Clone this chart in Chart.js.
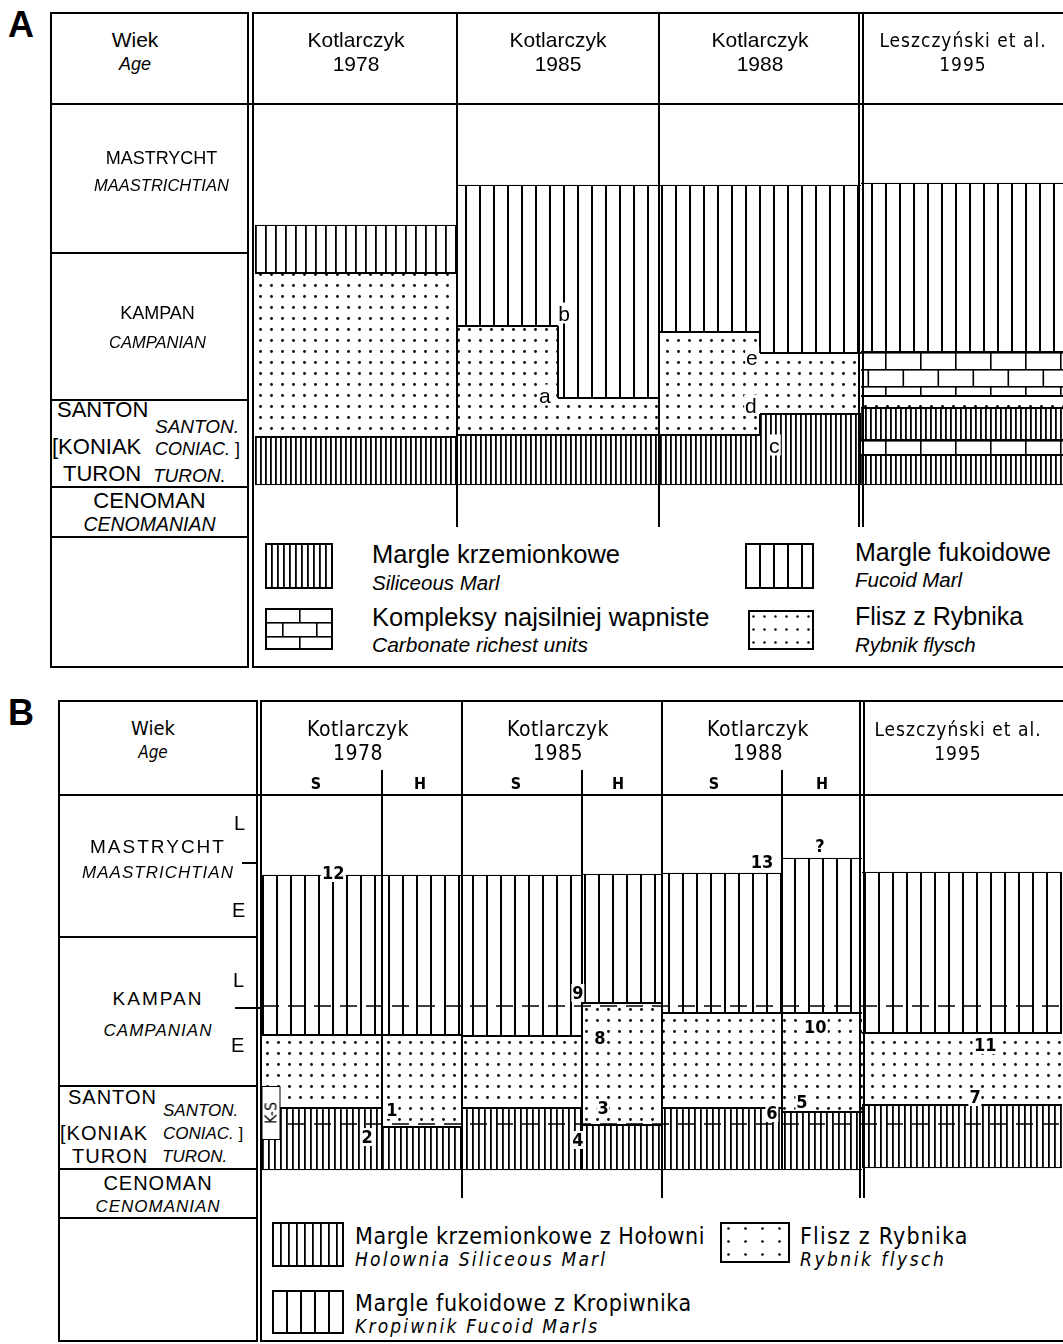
<!DOCTYPE html>
<html>
<head>
<meta charset="utf-8">
<script src="https://cdn.jsdelivr.net/npm/chart.js@4.4.0/dist/chart.umd.min.js"></script>
<style>
body { margin: 0; width: 1063px; height: 1344px; overflow: hidden; background: #fff; position: relative; color: #000; font-family: "Liberation Sans", Arial, sans-serif; }
.box { position: absolute; border: 2px solid #000; box-sizing: border-box; }
.hl { position: absolute; height: 2px; background: #000; }
.vl { position: absolute; width: 2px; background: #000; }
.letter { position: absolute; font-weight: bold; font-size: 36px; }
.ctr { position: absolute; text-align: center; white-space: nowrap; }
.t { position: absolute; white-space: nowrap; line-height: 20px; }
.tech { font-family: "DejaVu Sans Condensed", "Liberation Sans Narrow", "DejaVu Sans", sans-serif; font-stretch: condensed; }
.it { font-style: italic; }
.wrap { position: absolute; }
.mark { position: absolute; transform: translate(-50%, -50%); background: #fff; line-height: 1; padding: 0 1px; white-space: nowrap; }
.ks { width: 17px; height: 52px; border: 1.5px solid #000; padding: 0; writing-mode: vertical-rl; transform: translate(-50%, -50%) rotate(180deg); text-align: center; line-height: 17px; font-weight: normal !important; }
canvas { display: block; }
.sw { position: absolute; }
</style>
</head>
<body>

<!-- ================= PANEL A ================= -->
<div class="letter" style="left:8px;top:4px">A</div>
<div class="box" style="left:50px;top:12px;width:199px;height:656px"></div>
<div class="box" style="left:252px;top:12px;width:900px;height:656px"></div>

<div class="wrap" style="left:255px;top:104px"><canvas id="chartA" width="808" height="423"></canvas></div>

<div class="hl" style="left:50px;top:103px;width:1013px"></div>
<div class="hl" style="left:50px;top:252px;width:199px"></div>
<div class="hl" style="left:50px;top:399px;width:199px"></div>
<div class="hl" style="left:50px;top:486px;width:199px"></div>
<div class="hl" style="left:50px;top:536px;width:199px"></div>
<div class="vl" style="left:456px;top:12px;height:92px"></div>
<div class="vl" style="left:658px;top:12px;height:92px"></div>
<div class="vl" style="left:858px;top:12px;height:92px"></div>
<div class="vl" style="left:862px;top:12px;height:92px"></div>

<div class="ctr" style="left:50px;top:28px;width:170px;font-size:21px;line-height:23px">Wiek<br><i style="font-size:18px">Age</i></div>
<div class="ctr" style="left:255px;top:28px;width:202px;font-size:21px;line-height:24px">Kotlarczyk<br>1978</div>
<div class="ctr" style="left:457px;top:28px;width:202px;font-size:21px;line-height:24px">Kotlarczyk<br>1985</div>
<div class="ctr" style="left:659px;top:28px;width:202px;font-size:21px;line-height:24px">Kotlarczyk<br>1988</div>
<div class="ctr tech" style="left:863px;top:28px;width:200px;font-size:19px;line-height:24px;letter-spacing:1px">Leszczyński et al.<br>1995</div>

<div class="ctr" style="left:62px;top:145px;width:199px;font-size:18px;line-height:27px">MASTRYCHT<br><i style="font-size:16.5px">MAASTRICHTIAN</i></div>
<div class="ctr" style="left:58px;top:299px;width:199px;font-size:18px;line-height:29px">KAMPAN<br><i style="font-size:16.5px">CAMPANIAN</i></div>
<div class="t" style="left:57px;top:400px;font-size:22px">SANTON</div>
<div class="t it" style="left:155px;top:417px;font-size:19px">SANTON.</div>
<div class="t" style="left:52px;top:437px;font-size:22px">[KONIAK</div>
<div class="t it" style="left:155px;top:439px;font-size:18px">CONIAC. <span style="font-style:normal">]</span></div>
<div class="t" style="left:63px;top:464px;font-size:22px">TURON</div>
<div class="t it" style="left:153px;top:466px;font-size:19px">TURON.</div>
<div class="ctr" style="left:50px;top:489px;width:199px;font-size:22px;line-height:23px">CENOMAN<br><i style="font-size:19.5px">CENOMANIAN</i></div>

<canvas class="sw" id="swA1" width="68" height="46" style="left:265px;top:543px"></canvas>
<canvas class="sw" id="swA2" width="68" height="42" style="left:265px;top:608px"></canvas>
<canvas class="sw" id="swA3" width="69" height="46" style="left:745px;top:543px"></canvas>
<canvas class="sw" id="swA4" width="66" height="40" style="left:748px;top:610px"></canvas>
<div class="t" style="left:372px;top:541px;font-size:25.5px;line-height:26px">Margle krzemionkowe</div>
<div class="t it" style="left:372px;top:573px;font-size:20.5px">Siliceous Marl</div>
<div class="t" style="left:372px;top:604px;font-size:25.5px;line-height:26px">Kompleksy najsilniej wapniste</div>
<div class="t it" style="left:372px;top:635px;font-size:21px">Carbonate richest units</div>
<div class="t" style="left:855px;top:539px;font-size:25px;line-height:26px">Margle fukoidowe</div>
<div class="t it" style="left:855px;top:570px;font-size:20.5px">Fucoid Marl</div>
<div class="t" style="left:855px;top:603px;font-size:25px;line-height:26px">Flisz z Rybnika</div>
<div class="t it" style="left:855px;top:635px;font-size:20.5px">Rybnik flysch</div>

<!-- ================= PANEL B ================= -->
<div class="letter" style="left:8px;top:692px">B</div>
<div class="box" style="left:58px;top:700px;width:200px;height:642px"></div>
<div class="box" style="left:260px;top:700px;width:900px;height:642px"></div>

<div class="wrap" style="left:262px;top:795px"><canvas id="chartB" width="800" height="403"></canvas></div>

<div class="hl" style="left:58px;top:794px;width:1005px"></div>
<div class="hl" style="left:58px;top:936px;width:200px"></div>
<div class="hl" style="left:58px;top:1085px;width:200px"></div>
<div class="hl" style="left:58px;top:1168px;width:200px"></div>
<div class="hl" style="left:58px;top:1217px;width:200px"></div>
<div class="vl" style="left:461px;top:700px;height:95px"></div>
<div class="vl" style="left:661px;top:700px;height:95px"></div>
<div class="vl" style="left:859px;top:700px;height:95px"></div>
<div class="vl" style="left:863px;top:700px;height:95px"></div>
<div class="vl" style="left:381px;top:770px;height:25px"></div>
<div class="vl" style="left:581px;top:770px;height:25px"></div>
<div class="vl" style="left:781px;top:770px;height:25px"></div>

<div class="ctr tech" style="left:58px;top:717px;width:190px;font-size:20px;line-height:23px">Wiek<br><i style="font-size:17px">Age</i></div>
<div class="ctr tech" style="left:258px;top:717px;width:200px;font-size:21px;line-height:24px;letter-spacing:0.5px">Kotlarczyk<br>1978</div>
<div class="ctr tech" style="left:458px;top:717px;width:200px;font-size:21px;line-height:24px;letter-spacing:0.5px">Kotlarczyk<br>1985</div>
<div class="ctr tech" style="left:658px;top:717px;width:200px;font-size:21px;line-height:24px;letter-spacing:0.5px">Kotlarczyk<br>1988</div>
<div class="ctr tech" style="left:858px;top:717px;width:200px;font-size:19px;line-height:24px;letter-spacing:1px">Leszczyński et al.<br>1995</div>
<div class="ctr tech" style="left:256px;top:774px;width:120px;font-size:16px;font-weight:bold">S</div>
<div class="ctr tech" style="left:380px;top:774px;width:80px;font-size:16px;font-weight:bold">H</div>
<div class="ctr tech" style="left:456px;top:774px;width:120px;font-size:16px;font-weight:bold">S</div>
<div class="ctr tech" style="left:578px;top:774px;width:80px;font-size:16px;font-weight:bold">H</div>
<div class="ctr tech" style="left:654px;top:774px;width:120px;font-size:16px;font-weight:bold">S</div>
<div class="ctr tech" style="left:782px;top:774px;width:80px;font-size:16px;font-weight:bold">H</div>

<div class="ctr" style="left:58px;top:834px;width:200px;font-size:19px;line-height:25px;letter-spacing:2px">MASTRYCHT<br><i style="font-size:17px;letter-spacing:1px">MAASTRICHTIAN</i></div>
<div class="ctr" style="left:58px;top:983px;width:200px;font-size:19px;line-height:31px;letter-spacing:2px">KAMPAN<br><i style="font-size:17px;letter-spacing:1px">CAMPANIAN</i></div>
<div class="t" style="left:234px;top:813px;font-size:20px">L</div>
<div class="hl" style="left:242px;top:862px;width:16px;height:1.5px"></div>
<div class="t" style="left:232px;top:900px;font-size:20px">E</div>
<div class="t" style="left:233px;top:970px;font-size:20px">L</div>
<div class="hl" style="left:235px;top:1007px;width:28px;height:1.5px"></div>
<div class="t" style="left:231px;top:1035px;font-size:20px">E</div>
<div class="t" style="left:68px;top:1087px;font-size:20px;letter-spacing:1px">SANTON</div>
<div class="t it" style="left:163px;top:1101px;font-size:17px">SANTON.</div>
<div class="t" style="left:60px;top:1123px;font-size:20px;letter-spacing:1px">[KONIAK</div>
<div class="t it" style="left:163px;top:1124px;font-size:17px">CONIAC. <span style="font-style:normal">]</span></div>
<div class="t" style="left:72px;top:1146px;font-size:20px;letter-spacing:1px">TURON</div>
<div class="t it" style="left:162px;top:1147px;font-size:17px">TURON.</div>
<div class="ctr" style="left:58px;top:1172px;width:200px;font-size:20px;line-height:22px;letter-spacing:1px">CENOMAN<br><i style="font-size:17px">CENOMANIAN</i></div>

<canvas class="sw" id="swB1" width="72" height="45" style="left:272px;top:1222px"></canvas>
<canvas class="sw" id="swB2" width="70" height="41" style="left:720px;top:1222px"></canvas>
<canvas class="sw" id="swB3" width="72" height="44" style="left:272px;top:1290px"></canvas>
<div class="t tech" style="left:355px;top:1224px;font-size:23px;line-height:24px;letter-spacing:0.6px">Margle krzemionkowe z Hołowni</div>
<div class="t tech it" style="left:355px;top:1249px;font-size:19px;letter-spacing:2.2px">Holownia Siliceous Marl</div>
<div class="t tech" style="left:800px;top:1224px;font-size:23px;line-height:24px;letter-spacing:1.2px">Flisz z Rybnika</div>
<div class="t tech it" style="left:800px;top:1249px;font-size:19px;letter-spacing:2.5px">Rybnik flysch</div>
<div class="t tech" style="left:355px;top:1291px;font-size:23px;line-height:24px;letter-spacing:0.6px">Margle fukoidowe z Kropiwnika</div>
<div class="t tech it" style="left:355px;top:1316px;font-size:19px;letter-spacing:2.2px">Kropiwnik Fucoid Marls</div>

<script>
// Levels are drawing units measured downward from the header rule of each panel.

// ---- panel A: one slot = half of an author column
const slotsA = ['1978', '1978', '1985', '1985', '1988', '1988', '1995', '1995'];
const fucoidA = [[121, 169], [121, 169], [81, 222], [81, 294], [81, 228], [81, 249], [79, 248], [79, 248]];
const flyschA = [[169, 333], [169, 333], [222, 331], [294, 331], [228, 331], [249, 310], [292, 304], [292, 304]];
const siliceousA = [[333, 381], [333, 381], [331, 381], [331, 381], [331, 381], [310, 381], [304, 336], [304, 336]];
const siliceousA2 = [null, null, null, null, null, null, [351, 381], [351, 381]];
const carbonateA = [null, null, null, null, null, null, [248, 292], [248, 292]];
const carbonateA2 = [null, null, null, null, null, null, [336, 351], [336, 351]];
const markTextA = ['a', 'b', 'c', 'd', 'e'];
const markSlotA = [2.37, 2.56, 4.64, 4.41, 4.42];
const markLevelA = [291, 209, 341, 301, 253];

// ---- panel B: S / H sub-columns, 5 slots per author
const slotsB = ['1978 S', '1978 S', '1978 S', '1978 H', '1978 H', '1985 S', '1985 S', '1985 S', '1985 H', '1985 H',
  '1988 S', '1988 S', '1988 S', '1988 H', '1988 H', '1995', '1995', '1995', '1995', '1995'];
const fucoidB = [[80, 240], [80, 240], [80, 240], [80, 240], [80, 240], [80, 241], [80, 241], [80, 241], [79, 208], [79, 208],
  [78, 218], [78, 218], [78, 218], [63, 218], [63, 218], [77, 238], [77, 238], [77, 238], [77, 238], [77, 238]];
const flyschB = [[240, 313], [240, 313], [240, 313], [240, 332], [240, 332], [241, 313], [241, 313], [241, 313], [208, 330], [208, 330],
  [218, 313], [218, 313], [218, 313], [218, 317], [218, 317], [238, 310], [238, 310], [238, 310], [238, 310], [238, 310]];
const siliceousB = [[313, 375], [313, 375], [313, 375], [332, 375], [332, 375], [313, 375], [313, 375], [313, 375], [330, 375], [330, 375],
  [313, 375], [313, 375], [313, 375], [317, 375], [317, 375], [310, 373], [310, 373], [310, 373], [310, 373], [310, 373]];
const substageB = [211, 329];
const markTextB = ['12', '1', '2', '9', '8', '3', '4', '13', '?', '10', '5', '6', '11', '7', 'K-S'];
const markSlotB = [1.28, 2.75, 2.13, 7.4, 7.95, 8.03, 7.4, 12.0, 13.45, 13.33, 13.0, 12.25, 17.58, 17.33, -0.27];
const markLevelB = [78, 315, 342, 198, 243, 313, 345, 67, 51, 232, 307, 318, 250, 302, 318];

// ---- fill patterns
function tile(w, h, paint) {
  const c = document.createElement('canvas');
  c.width = w; c.height = h;
  const g = c.getContext('2d');
  g.fillStyle = '#fff'; g.fillRect(0, 0, w, h);
  g.fillStyle = '#000';
  paint(g);
  return g.createPattern(c, 'repeat');
}
const vlines = (gap, lw) => tile(gap, 8, g => g.fillRect(0, 0, lw, 8));
const dots = (gx, gy, r) => tile(gx, gy, g => { g.beginPath(); g.arc(gx / 2, gy / 2, r, 0, Math.PI * 2); g.fill(); });
const bricks = (w, h) => tile(w, h * 2, g => {
  g.fillRect(0, 0, w, 1.6); g.fillRect(0, h, w, 1.6);
  g.fillRect(0, 0, 1.6, h); g.fillRect(w / 2, h, 1.6, h);
});

function layer(label, lith, data, pattern) {
  return {
    label, lith, data,
    backgroundColor: pattern,
    borderColor: '#000',
    borderWidth: { top: 1.4, bottom: 1.4, left: 0, right: 0 },
    borderSkipped: false,
    grouped: false,
    barPercentage: 1,
    categoryPercentage: 1
  };
}

// dividers, lithology steps, dashed sub-stage rules and the small labels
function framePlugin(cfg, marks) {
  return {
    id: 'frame',
    beforeDatasetsDraw(chart) {
      const y = chart.scales.y;
      chart.data.datasets.forEach(ds => {
        if (ds.lith !== 'carbonate') return;
        const first = ds.data.find(d => d);
        ds.backgroundColor.setTransform(new DOMMatrix([1, 0, 0, 1, 0, y.getPixelForValue(first[0])]));
      });
    },
    afterDatasetsDraw(chart) {
      const { ctx, chartArea: a, scales: { x, y } } = chart;
      const slots = chart.data.labels;
      const sets = chart.data.datasets;
      const year = s => s.split(' ')[0];
      const edge = i => Math.round((x.getPixelForValue(i - 1) + x.getPixelForValue(i)) / 2);
      const lithAt = (i, v) => {
        const ds = sets.find(s => s.data[i] && v > s.data[i][0] && v < s.data[i][1]);
        return ds ? ds.lith : null;
      };
      const floor = i => Math.max(...sets.map(s => (s.data[i] ? s.data[i][1] : 0)));
      const seg = (x0, y0, x1, y1) => { ctx.beginPath(); ctx.moveTo(x0, y0); ctx.lineTo(x1, y1); ctx.stroke(); };

      ctx.save();
      ctx.strokeStyle = '#000';
      ctx.lineWidth = 1.6;
      ctx.setLineDash([17, 9]);
      (cfg.substages || []).forEach(v => seg(a.left, y.getPixelForValue(v), a.right, y.getPixelForValue(v)));
      ctx.setLineDash([]);

      ctx.lineWidth = 2;
      for (let i = 1; i < slots.length; i++) {
        const px = edge(i);
        if (year(slots[i]) !== year(slots[i - 1])) {
          const xs = year(slots[i]) === cfg.doubleBefore ? [px - 2, px + 2] : [px];
          xs.forEach(xx => seg(xx, a.top, xx, a.bottom));
        } else if (slots[i] !== slots[i - 1]) {
          seg(px, a.top, px, y.getPixelForValue(Math.max(floor(i), floor(i - 1))));
        } else {
          const cuts = [...new Set(sets.flatMap(s => [s.data[i - 1], s.data[i]]).filter(Boolean).flat())].sort((p, q) => p - q);
          for (let k = 1; k < cuts.length; k++) {
            const mid = (cuts[k - 1] + cuts[k]) / 2;
            if (lithAt(i - 1, mid) !== lithAt(i, mid)) {
              seg(px, y.getPixelForValue(cuts[k - 1]), px, y.getPixelForValue(cuts[k]));
            }
          }
        }
      }
      ctx.restore();
    },
    afterDraw(chart) {
      const { x, y } = chart.scales;
      marks.forEach(m => {
        m.el.style.left = x.getPixelForValue(m.slot) + 'px';
        m.el.style.top = y.getPixelForValue(m.level) + 'px';
      });
    }
  };
}

function drawPanel(id, slots, datasets, cfg) {
  const canvas = document.getElementById(id);
  const marks = cfg.texts.map((t, i) => {
    const el = document.createElement('span');
    el.className = 'mark' + (t === 'K-S' ? ' ks' : '') + (cfg.tech ? ' tech' : '');
    el.style.fontSize = t === 'K-S' ? '16px' : cfg.fontSize;
    if (cfg.bold) el.style.fontWeight = 'bold';
    el.textContent = t;
    canvas.parentNode.appendChild(el);
    return { el, slot: cfg.slotPos[i], level: cfg.levels[i] };
  });
  return new Chart(canvas, {
    type: 'bar',
    data: { labels: slots, datasets },
    options: {
      responsive: false,
      animation: false,
      events: [],
      layout: { padding: 0 },
      plugins: { legend: { display: false }, tooltip: { enabled: false } },
      scales: {
        x: { display: false, offset: true },
        y: { display: false, min: 0, max: cfg.depth, reverse: true }
      }
    },
    plugins: [framePlugin(cfg, marks)]
  });
}

// the 1978 fucoid marl of panel A is hatched more densely than the others
const fucoidDense = vlines(10, 1.8);
const fucoidWide = vlines(14, 2);

drawPanel('chartA', slotsA, [
  layer('Margle fukoidowe', 'fucoid', fucoidA, slotsA.map(s => (s === '1978' ? fucoidDense : fucoidWide))),
  layer('Flisz z Rybnika', 'flysch', flyschA, dots(11, 11, 1.4)),
  layer('Margle krzemionkowe', 'siliceous', siliceousA, vlines(5, 1.8)),
  layer('Margle krzemionkowe', 'siliceous', siliceousA2, vlines(5, 1.8)),
  layer('Kompleksy najsilniej wapniste', 'carbonate', carbonateA, bricks(35, 17)),
  layer('Kompleksy najsilniej wapniste', 'carbonate', carbonateA2, bricks(35, 17))
], { depth: 423, doubleBefore: '1995', texts: markTextA, slotPos: markSlotA, levels: markLevelA, fontSize: '21px' });

drawPanel('chartB', slotsB, [
  layer('Margle fukoidowe z Kropiwnika', 'fucoid', fucoidB, vlines(14, 2)),
  layer('Flisz z Rybnika', 'flysch', flyschB, dots(11, 11, 1.4)),
  layer('Margle krzemionkowe z Hołowni', 'siliceous', siliceousB, vlines(6, 1.8))
], { depth: 403, doubleBefore: '1995', substages: substageB, texts: markTextB, slotPos: markSlotB, levels: markLevelB, fontSize: '18px', tech: true, bold: true });

// legend swatches
function swatch(id, pattern) {
  const c = document.getElementById(id);
  const g = c.getContext('2d');
  g.fillStyle = pattern;
  g.fillRect(0, 0, c.width, c.height);
  g.lineWidth = 2;
  g.strokeStyle = '#000';
  g.strokeRect(1, 1, c.width - 2, c.height - 2);
}
swatch('swA1', vlines(6, 1.8));
swatch('swA2', bricks(34, 14));
swatch('swA3', vlines(14, 2));
swatch('swA4', dots(11, 13, 1.2));
swatch('swB1', vlines(8, 1.8));
swatch('swB2', dots(17, 13, 1.3));
swatch('swB3', vlines(14, 2));
</script>
</body>
</html>
